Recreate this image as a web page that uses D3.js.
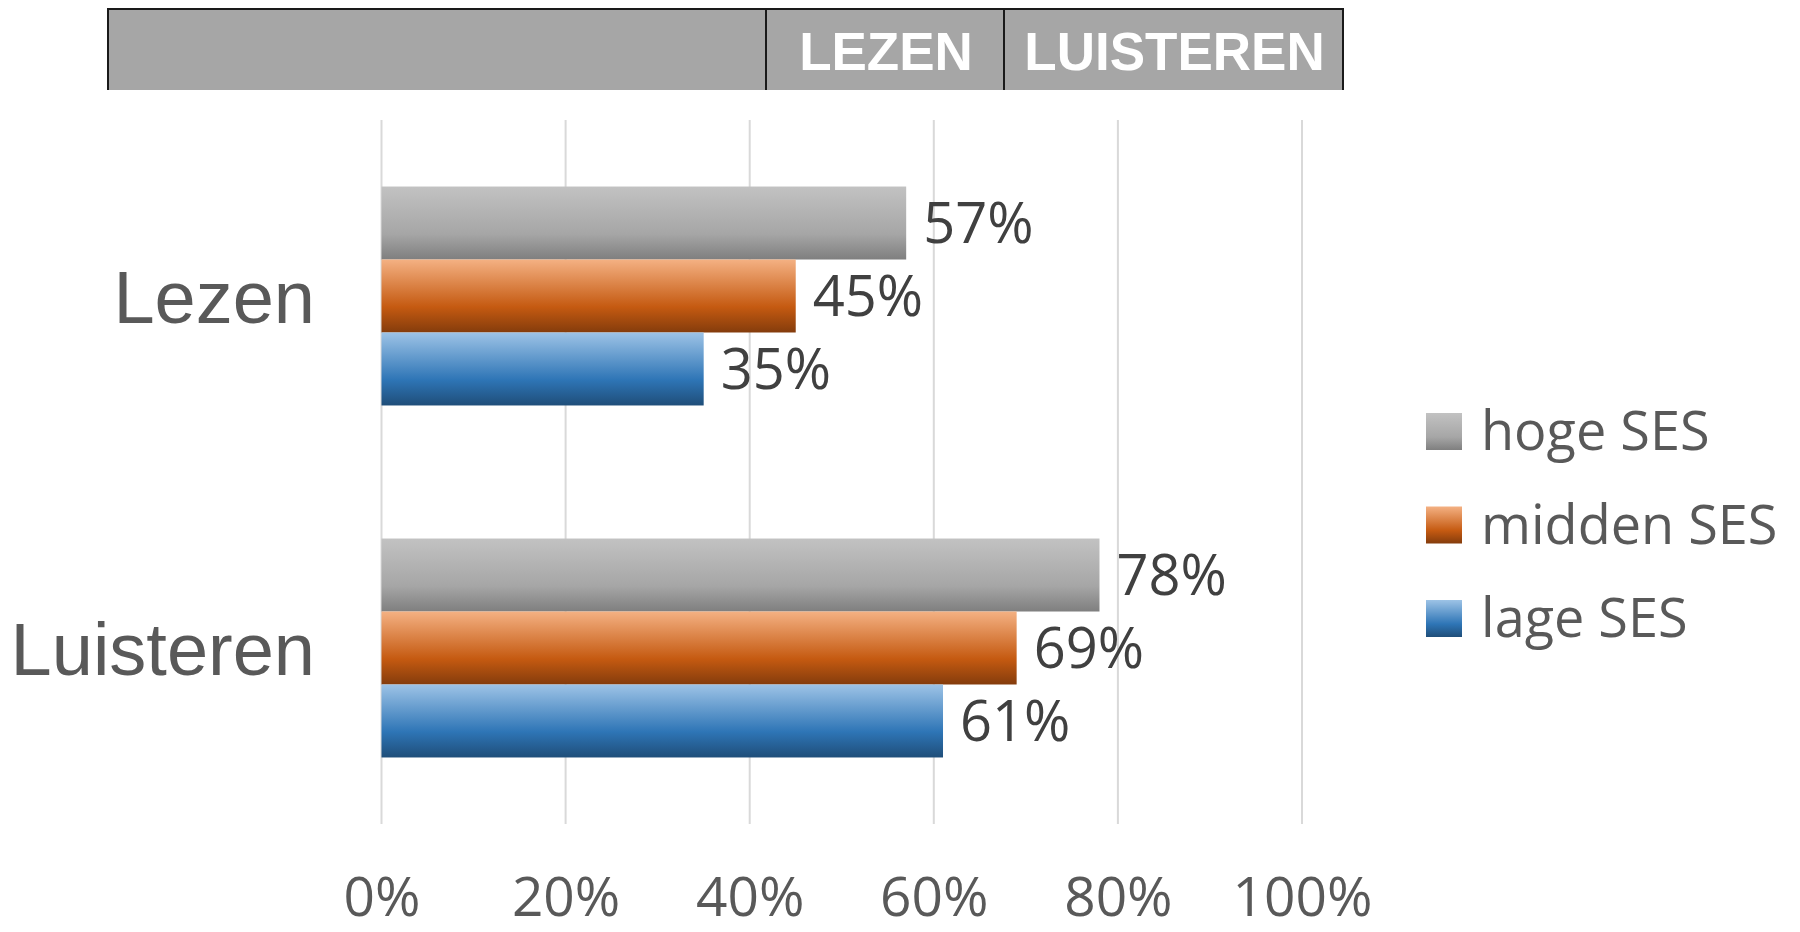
<!DOCTYPE html>
<html>
<head>
<meta charset="utf-8">
<script src="https://cdn.jsdelivr.net/npm/d3@7"></script>
<style>
  html, body { margin: 0; padding: 0; background: #fff; }
  svg { display: block; }
</style>
</head>
<body>
<div id="chart"></div>
<script>
// Reading ability by SES, bar chart with header strip
const categories = ["Lezen", "Luisteren"];
const seriesNames = ["hoge SES", "midden SES", "lage SES"];
const hogeSES = [57, 78];
const middenSES = [45, 69];
const lageSES = [35, 61];
const tickValues = [0, 20, 40, 60, 80, 100];
const headerLabels = ["LEZEN", "LUISTEREN"];

const series = [hogeSES, middenSES, lageSES];

// gradient stops per series: light top, base, dark bottom
const gradients = [
  ["#c2c2c2", "#a6a6a6", "#7f7f7f"],
  ["#f4b183", "#c55a11", "#843c0c"],
  ["#9dc3e6", "#2e75b6", "#1f4e79"]
];

const width = 1800;
const height = 932;

const svg = d3
  .select("#chart")
  .append("svg")
  .attr("width", width)
  .attr("height", height);

const defs = svg.append("defs");
gradients.forEach((g, i) => {
  const lg = defs
    .append("linearGradient")
    .attr("id", "grad" + i)
    .attr("x1", 0).attr("y1", 0)
    .attr("x2", 0).attr("y2", 1);
  lg.append("stop").attr("offset", "0%").attr("stop-color", g[0]);
  lg.append("stop").attr("offset", "65%").attr("stop-color", g[1]);
  lg.append("stop").attr("offset", "100%").attr("stop-color", g[2]);
});

// header strip
const header = svg.append("g");
const cells = [
  { x0: 108, x1: 766, label: "" },
  { x0: 766, x1: 1004, label: headerLabels[0] },
  { x0: 1004, x1: 1343, label: headerLabels[1] }
];
header
  .selectAll("rect")
  .data(cells)
  .join("rect")
  .attr("x", (d) => d.x0)
  .attr("y", 9)
  .attr("width", (d) => d.x1 - d.x0)
  .attr("height", 81)
  .attr("fill", "#a6a6a6");
header
  .append("path")
  .attr("d", "M108,90 V9 H1343 V90 M766,9 V90 M1004,9 V90")
  .attr("fill", "none")
  .attr("stroke", "#1a1a1a")
  .attr("stroke-width", 2);
header
  .selectAll("text")
  .data(cells.filter((d) => d.label))
  .join("text")
  .attr("x", (d) => (d.x0 + d.x1) / 2 + 1)
  .attr("y", 70)
  .attr("text-anchor", "middle")
  .attr("fill", "#fff")
  .attr("font-family", "'Liberation Sans', Arial, sans-serif")
  .attr("font-weight", "bold")
  .attr("font-size", 53)
  .text((d) => d.label);

// scales
const x = d3.scaleLinear().domain([0, 100]).range([381.5, 1302]);
const y = d3
  .scaleBand()
  .domain(categories)
  .range([120, 824])
  .paddingInner(0.378)
  .paddingOuter(0.189);
const ySub = d3
  .scaleBand()
  .domain(d3.range(series.length))
  .range([0, y.bandwidth()]);

// gridlines
svg
  .append("g")
  .selectAll("line")
  .data(tickValues)
  .join("line")
  .attr("x1", (d) => x(d))
  .attr("x2", (d) => x(d))
  .attr("y1", 120)
  .attr("y2", 824)
  .attr("stroke", "#d9d9d9")
  .attr("stroke-width", 2);

// x axis labels
const xAxis = svg
  .append("g")
  .attr("transform", "translate(0,916)")
  .call(d3.axisBottom(x).tickValues(tickValues).tickSize(0).tickFormat((d) => d + "%"));
xAxis.select(".domain").remove();
xAxis
  .selectAll("text")
  .attr("dy", 0)
  .attr("y", 0)
  .attr("fill", "#595959")
  .attr("font-family", "'Open Sans', sans-serif")
  .attr("font-size", 55);

// category labels
svg
  .append("g")
  .selectAll("text")
  .data(categories)
  .join("text")
  .attr("x", 315)
  .attr("y", (d) => y(d) + y.bandwidth() / 2 + 27)
  .attr("text-anchor", "end")
  .attr("fill", "#595959")
  .attr("font-family", "'Liberation Sans', Arial, sans-serif")
  .attr("font-size", 74)
  .text((d) => d);

// bars
const groups = svg
  .append("g")
  .selectAll("g")
  .data(categories)
  .join("g")
  .attr("transform", (d) => `translate(0,${y(d)})`);

groups.each(function (cat, ci) {
  const g = d3.select(this);
  const rows = series.map((s, si) => ({ si, value: s[ci] }));
  g.selectAll("rect")
    .data(rows)
    .join("rect")
    .attr("x", x(0))
    .attr("y", (d) => ySub(d.si))
    .attr("width", (d) => x(d.value) - x(0))
    .attr("height", ySub.bandwidth())
    .attr("fill", (d) => `url(#grad${d.si})`);
  g.selectAll("text")
    .data(rows)
    .join("text")
    .attr("x", (d) => x(d.value) + 17)
    .attr("y", (d) => ySub(d.si) + ySub.bandwidth() / 2 + 20)
    .attr("fill", "#404040")
    .attr("font-family", "'Open Sans', sans-serif")
    .attr("font-size", 56)
    .text((d) => d.value + "%");
});

// legend
const legend = svg
  .append("g")
  .selectAll("g")
  .data(seriesNames)
  .join("g")
  .attr("transform", (d, i) => `translate(1426,${413 + i * 93.5})`);
legend
  .append("rect")
  .attr("width", 36)
  .attr("height", 37)
  .attr("fill", (d, i) => `url(#grad${i})`);
legend
  .append("text")
  .attr("x", 55)
  .attr("y", 37)
  .attr("fill", "#595959")
  .attr("font-family", "'Open Sans', sans-serif")
  .attr("font-size", 54)
  .text((d) => d);
</script>
</body>
</html>
